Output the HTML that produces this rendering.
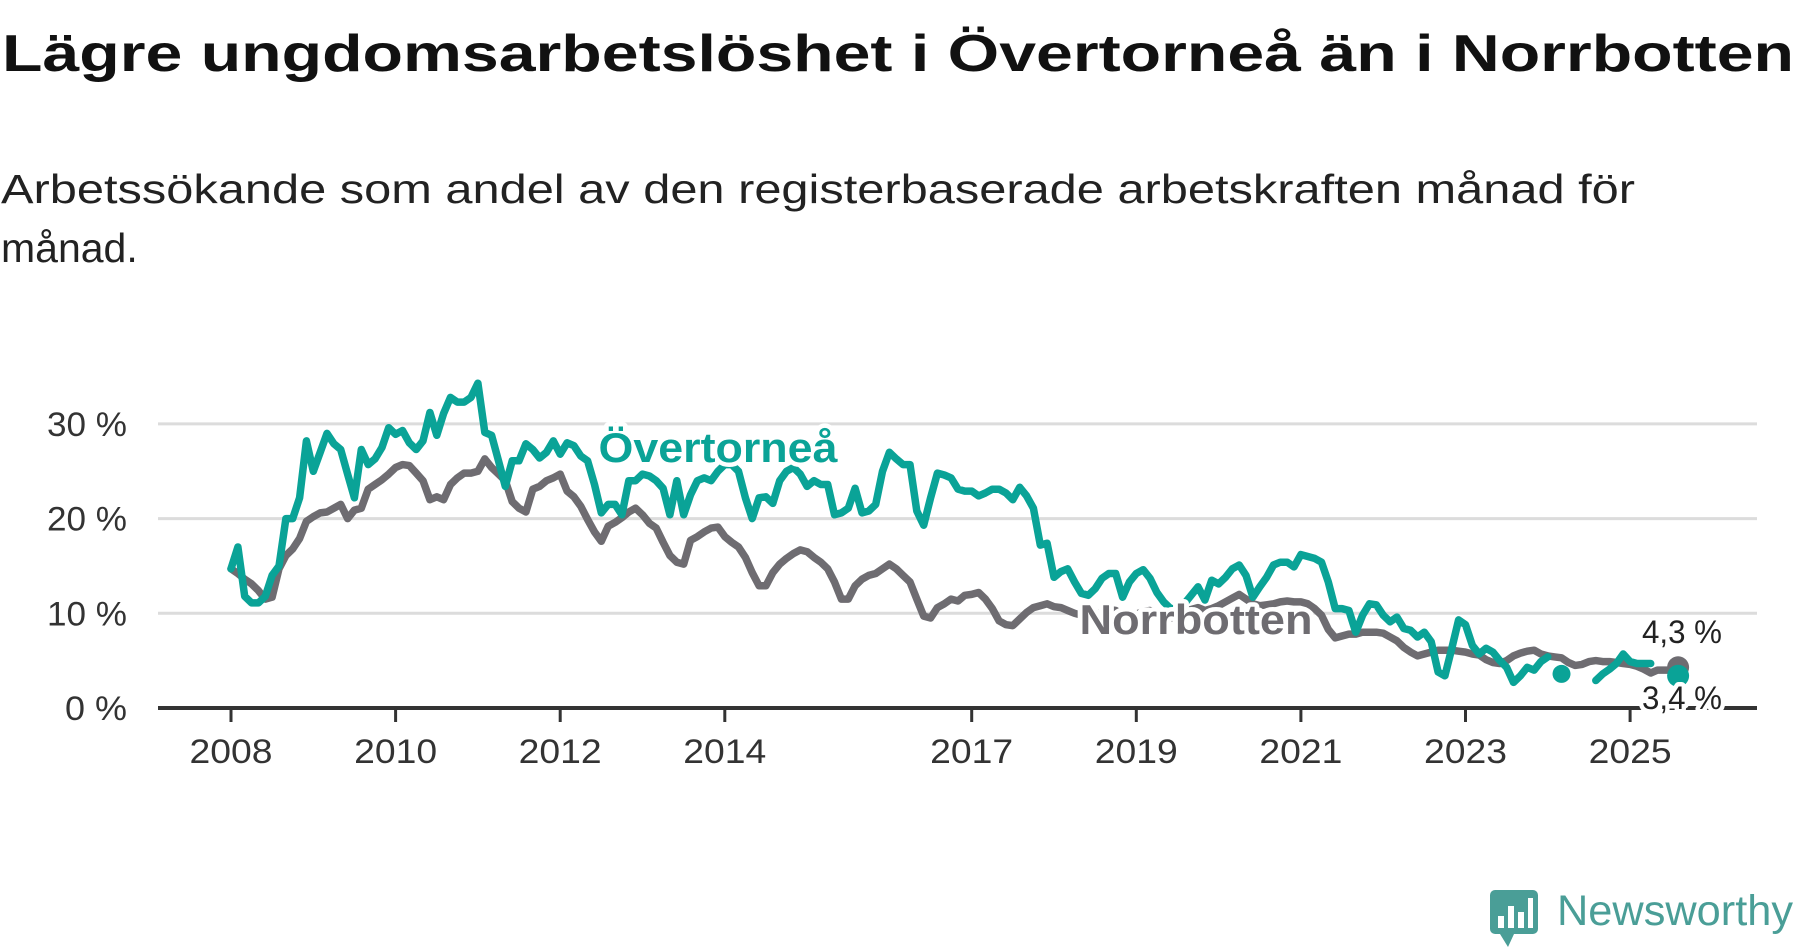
<!DOCTYPE html>
<html><head><meta charset="utf-8">
<style>
html,body{margin:0;padding:0;background:#fff;}
svg{display:block;font-family:"Liberation Sans","DejaVu Sans",sans-serif;}
</style></head>
<body>
<svg id="chart" width="1800" height="948" viewBox="0 0 1800 948" xmlns="http://www.w3.org/2000/svg">
<text x="2" y="71" font-size="52" font-weight="bold" fill="#111" textLength="1792" lengthAdjust="spacingAndGlyphs">Lägre ungdomsarbetslöshet i Övertorneå än i Norrbotten</text>
<text x="1" y="203" font-size="41" fill="#222" textLength="1634" lengthAdjust="spacingAndGlyphs">Arbetssökande som andel av den registerbaserade arbetskraften månad för</text>
<text x="1" y="262" font-size="41" fill="#222">månad.</text>
<g id="grid"></g>
<g id="yaxis"></g>
<g id="xaxis"></g>
<g id="series"></g>
<g id="labels"></g>
<g>
  <rect x="1490" y="890" width="48" height="44" rx="5" fill="#4a9e97"/>
  <path d="M1500 934 L1508 947 L1514 934 Z" fill="#4a9e97"/>
  <rect x="1498" y="916" width="6" height="12" fill="#fff"/><rect x="1508" y="906" width="6" height="22" fill="#fff"/><rect x="1518" y="912" width="6" height="16" fill="#fff"/><rect x="1528" y="898" width="5" height="30" fill="#fff"/>
  <text x="1557" y="925" font-size="43" fill="#4a9e97" textLength="236" lengthAdjust="spacingAndGlyphs">Newsworthy</text>
</g>
</svg>
<script>
const yTicks = [0, 10, 20, 30];
const yTickLabels = ["0 %", "10 %", "20 %", "30 %"];
const xTickYears = [2008, 2010, 2012, 2014, 2017, 2019, 2021, 2023, 2025];
const startYear = 2008;
const overtornea = [
14.7,17,11.8,11.1,11.1,11.8,14,15,20,20,22.2,28.2,
25,27,29,27.9,27.3,24.7,22.2,27.3,25.7,26.3,27.5,29.6,
28.9,29.3,28,27.3,28.2,31.2,28.8,31.1,32.8,32.3,32.3,32.8,
34.3,29.1,28.8,26.1,23.4,26.1,26.1,27.9,27.3,26.4,27,28.2,
26.8,28,27.7,26.6,26.1,23.6,20.6,21.5,21.5,20.4,24,24,
24.7,24.5,24,23.2,20.4,24,20.4,22.5,24,24.3,24,25,
25.7,25.7,25,22.2,20,22.2,22.3,21.6,24,25,25.4,24.7,
23.4,24,23.6,23.6,20.4,20.6,21.1,23.2,20.6,20.8,21.5,25,
27,26.3,25.7,25.7,20.8,19.3,22.2,24.8,24.6,24.3,23.1,22.9,
22.9,22.4,22.7,23.1,23.1,22.7,22,23.3,22.4,21.1,17.2,17.4,
13.8,14.4,14.7,13.3,12.1,11.9,12.6,13.7,14.2,14.2,11.7,13.3,
14.2,14.6,13.7,12.2,11.2,10.5,10.5,11,11.9,12.8,11.4,13.5,
13.1,13.8,14.7,15.1,14,11.7,12.8,13.8,15.1,15.4,15.4,14.9,
16.2,16,15.8,15.4,13.3,10.5,10.5,10.3,8,9.8,11,10.9,
9.8,9.1,9.6,8.4,8.2,7.5,8,7,3.8,3.4,6.3,9.3,
8.8,6.6,5.7,6.3,5.9,5,4.3,2.7,3.4,4.3,4,4.9,
5.4,null,3.6,null,null,null,null,2.9,3.6,4.1,4.7,5.7,
4.9,4.7,4.7,4.7,null,null,null,3.4];
const norrbotten = [
14.7,14.2,13.6,13.1,12.4,11.5,11.7,14.7,16.1,16.8,17.9,19.7,
20.2,20.6,20.7,21.1,21.5,20,20.9,21.1,23.1,23.6,24.1,24.7,
25.4,25.7,25.6,24.8,24,22,22.3,22,23.6,24.3,24.8,24.8,
25,26.3,25.4,24.7,24,21.8,21.1,20.7,23.1,23.4,24,24.3,
24.7,22.9,22.3,21.3,19.9,18.6,17.6,19.2,19.6,20.1,20.7,21.1,
20.4,19.5,19,17.5,16.1,15.4,15.2,17.7,18.1,18.6,19,19.1,
18.1,17.5,17,15.9,14.3,12.9,12.9,14.3,15.2,15.8,16.3,16.7,
16.5,15.9,15.4,14.7,13.3,11.5,11.5,12.9,13.6,14,14.2,14.7,
15.2,14.7,14,13.3,11.5,9.7,9.5,10.6,11,11.5,11.3,11.9,
12,12.2,11.5,10.5,9.2,8.8,8.7,9.4,10.1,10.6,10.8,11,
10.7,10.6,10.3,10,9.8,9.5,9.7,10.2,10.4,10.3,9.8,9.6,
9.9,10.2,10.3,10,9.7,9.5,9.8,10.1,10.4,10.6,10.3,10.5,
10.8,11.2,11.6,12,11.5,11,10.8,10.9,11,11.2,11.3,11.2,
11.2,11,10.5,9.8,8.3,7.4,7.6,7.8,7.8,8,8,8,
7.9,7.5,7.1,6.4,5.9,5.5,5.7,5.9,6.1,6.1,6.1,6,
5.9,5.7,5.6,5.1,4.8,4.7,5,5.5,5.8,6,6.1,5.7,
5.5,5.4,5.3,4.8,4.5,4.6,4.9,5,4.9,4.9,4.8,4.7,
4.6,4.4,4.1,3.7,4,4,4,4.3];

const NS = "http://www.w3.org/2000/svg";
const X0 = 231, PX_YEAR = 82.3, Y0 = 708, PX_PCT = 9.47;
function xScale(monthIndex){ return X0 + monthIndex * PX_YEAR / 12; }
function xYear(yr){ return X0 + (yr - startYear) * PX_YEAR; }
function yScale(v){ return Y0 - v * PX_PCT; }
function mk(tag, attrs, parent){
  const e = document.createElementNS(NS, tag);
  for (const k in attrs) e.setAttribute(k, attrs[k]);
  parent.appendChild(e); return e;
}
const grid = document.getElementById('grid');
const yaxis = document.getElementById('yaxis');
const xaxis = document.getElementById('xaxis');
const series = document.getElementById('series');
const labels = document.getElementById('labels');

yTicks.forEach((t, i) => {
  if (t > 0) {
    const g = mk('line', {x1:158, x2:1757, y1:yScale(t), y2:yScale(t), stroke:'#dcdcdc', 'stroke-width':3}, grid);
    
    
  }
  const tx = mk('text', {x:127, y:yScale(t)+12, 'font-size':34, fill:'#333', 'text-anchor':'end',
    textLength: t === 0 ? 62 : 80, lengthAdjust:'spacingAndGlyphs'}, yaxis);
  tx.textContent = yTickLabels[i];
  
  
});
const axisLine = mk('line', {x1:158, x2:1757, y1:Y0, y2:Y0, stroke:'#333', 'stroke-width':4}, xaxis);


xTickYears.forEach(yr => {
  const x = xYear(yr);
  const tk = mk('line', {x1:x, x2:x, y1:Y0, y2:Y0+14, stroke:'#333', 'stroke-width':3}, xaxis);
  
  
  const tl = mk('text', {x:x, y:763, 'font-size':34, fill:'#333', 'text-anchor':'middle', textLength:83, lengthAdjust:'spacingAndGlyphs'}, xaxis);
  tl.textContent = yr;
  
  
});

function drawSeries(data, color, name){
  let d = '';
  let pen = false;
  data.forEach((v, i) => {
    if (v === null) { pen = false; return; }
    const prev = i > 0 ? data[i-1] : null, next = i < data.length-1 ? data[i+1] : null;
    if (prev === null && next === null) {
      const c = mk('circle', {cx:xScale(i), cy:yScale(v), r:9, fill:color}, series);
      
      
    }
    d += (pen ? 'L' : 'M') + xScale(i).toFixed(1) + ' ' + yScale(v).toFixed(1) + ' ';
    pen = true;
  });
  const p = mk('path', {d:d, fill:'none', stroke:color, 'stroke-width':7.5, 'stroke-linejoin':'round', 'stroke-linecap':'round'}, series);
  
  
  const li = data.length - 1;
  const end = mk('circle', {cx:xScale(li), cy:yScale(data[li]), r:11, fill:color}, series);
  
  
}
drawSeries(norrbotten, '#6e6c71', 'norrbotten');
drawSeries(overtornea, '#0aa397', 'overtornea');

function label(txt, x, y, size, weight, color, anchor, name, len){
  const attrs = {x:x, y:y, 'font-size':size, 'font-weight':weight, fill:color, 'text-anchor':anchor,
    stroke:'#fff', 'stroke-width':9, 'stroke-linejoin':'round', 'paint-order':'stroke'};
  if (len) { attrs.textLength = len; attrs.lengthAdjust = 'spacingAndGlyphs'; }
  const t = mk('text', attrs, labels);
  t.textContent = txt;
  
  
}
label('Övertorneå', 718, 462, 42, 'bold', '#0aa397', 'middle', 'overtornea-label', 239);
label('Norrbotten', 1196, 634, 42, 'bold', '#6e6c71', 'middle', 'norrbotten-label', 233);
label(norrbotten[norrbotten.length-1].toFixed(1).replace('.', ',') + ' %', 1682, 643, 32, 'normal', '#222', 'middle', 'norrbotten-end-value', 80);
label(overtornea[overtornea.length-1].toFixed(1).replace('.', ',') + ' %', 1682, 709, 32, 'normal', '#222', 'middle', 'overtornea-end-value', 80);
</script>
</body></html>
